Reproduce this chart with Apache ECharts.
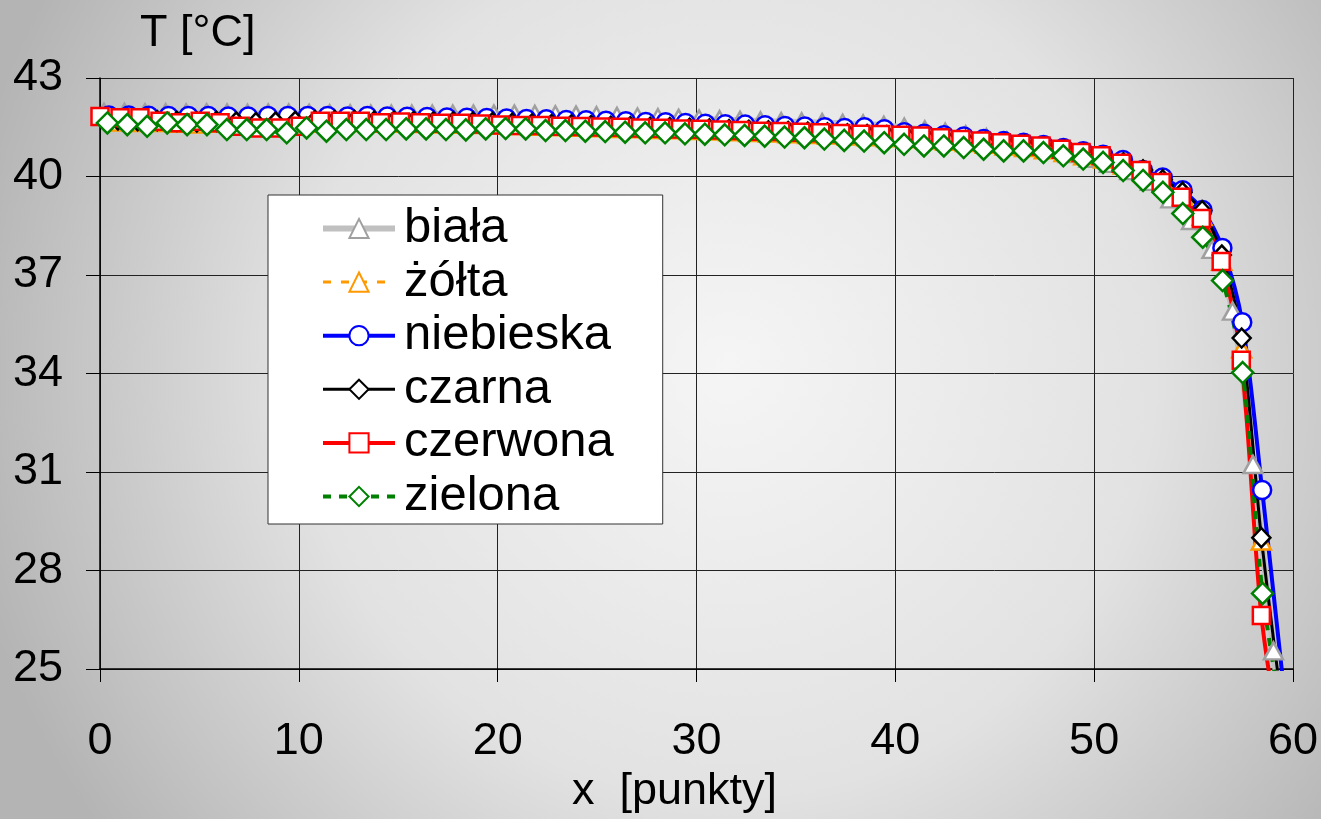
<!DOCTYPE html>
<html>
<head>
<meta charset="utf-8">
<title>T [°C] – x [punkty]</title>
<script src="https://cdn.jsdelivr.net/npm/echarts@6/dist/echarts.min.js"></script>
<style>
  html, body { margin: 0; padding: 0; }
  #chart { width: 1321px; height: 819px; }
</style>
</head>
<body>
<div id="chart"></div>
<script>
// Temperature profiles along a line of points, one series per colour.

const seriesNames = ['biała', 'żółta', 'niebieska', 'czarna', 'czerwona', 'zielona'];

const xTicks = [0, 10, 20, 30, 40, 50, 60];
const yTicks = [25, 28, 31, 34, 37, 40, 43];

// x positions [punkty]
const bialaX = [0.20, 1.23, 2.26, 3.30, 4.33, 5.36, 6.39, 7.42, 8.46, 9.49,
  10.52, 11.55, 12.58, 13.62, 14.65, 15.68, 16.71, 17.74, 18.78, 19.81,
  20.84, 21.87, 22.90, 23.94, 24.97, 26.00, 27.03, 28.06, 29.10, 30.13,
  31.16, 32.19, 33.22, 34.26, 35.29, 36.32, 37.35, 38.38, 39.42, 40.45,
  41.48, 42.51, 43.54, 44.58, 45.61, 46.64, 47.67, 48.70, 49.74, 50.77,
  51.80, 52.83, 53.86, 54.90, 55.93, 56.96, 57.99, 59.02, 60.06];

const czarnaX = [0.90, 1.89, 2.88, 3.87, 4.87, 5.86, 6.85, 7.84, 8.83, 9.82,
  10.82, 11.81, 12.80, 13.79, 14.78, 15.77, 16.76, 17.76, 18.75, 19.74,
  20.73, 21.72, 22.71, 23.70, 24.70, 25.69, 26.68, 27.67, 28.66, 29.65,
  30.65, 31.64, 32.63, 33.62, 34.61, 35.60, 36.59, 37.59, 38.58, 39.57,
  40.56, 41.55, 42.54, 43.53, 44.53, 45.52, 46.51, 47.50, 48.49, 49.48,
  50.48, 51.47, 52.46, 53.45, 54.44, 55.43, 56.42, 57.42, 58.41, 59.40];

const zoltaX = czarnaX;

const niebieskaX = [0.45, 1.45, 2.45, 3.45, 4.45, 5.45, 6.45, 7.45, 8.45, 9.45,
  10.45, 11.45, 12.45, 13.45, 14.45, 15.45, 16.45, 17.45, 18.45, 19.45,
  20.45, 21.45, 22.45, 23.45, 24.45, 25.45, 26.45, 27.45, 28.45, 29.45,
  30.45, 31.45, 32.45, 33.45, 34.45, 35.45, 36.45, 37.45, 38.45, 39.45,
  40.45, 41.45, 42.45, 43.45, 44.45, 45.45, 46.45, 47.45, 48.45, 49.45,
  50.45, 51.45, 52.45, 53.45, 54.45, 55.45, 56.45, 57.45, 58.45, 59.45];

const czerwonaX = [0.00, 1.01, 2.01, 3.02, 4.03, 5.04, 6.04, 7.05, 8.06, 9.06,
  10.07, 11.08, 12.08, 13.09, 14.10, 15.11, 16.11, 17.12, 18.13, 19.13,
  20.14, 21.15, 22.15, 23.16, 24.17, 25.18, 26.18, 27.19, 28.20, 29.20,
  30.21, 31.22, 32.22, 33.23, 34.24, 35.25, 36.25, 37.26, 38.27, 39.27,
  40.28, 41.29, 42.29, 43.30, 44.31, 45.32, 46.32, 47.33, 48.34, 49.34,
  50.35, 51.36, 52.36, 53.37, 54.38, 55.39, 56.39, 57.40, 58.41, 59.41];

const zielonaX = [0.37, 1.37, 2.37, 3.38, 4.38, 5.38, 6.38, 7.38, 8.38, 9.39,
  10.39, 11.39, 12.39, 13.39, 14.39, 15.40, 16.40, 17.40, 18.40, 19.40,
  20.40, 21.41, 22.41, 23.41, 24.41, 25.41, 26.41, 27.42, 28.42, 29.42,
  30.42, 31.42, 32.42, 33.43, 34.43, 35.43, 36.43, 37.43, 38.43, 39.44,
  40.44, 41.44, 42.44, 43.44, 44.44, 45.45, 46.45, 47.45, 48.45, 49.45,
  50.45, 51.46, 52.46, 53.46, 54.46, 55.46, 56.46, 57.47, 58.47, 59.47];

// temperatures T [°C]
const bialaT = [41.95, 41.95, 41.94, 41.94, 41.93, 41.94, 41.93, 41.92, 41.93, 41.93,
  41.92, 41.91, 41.91, 41.90, 41.90, 41.90, 41.90, 41.90, 41.90, 41.90,
  41.90, 41.89, 41.88, 41.87, 41.85, 41.83, 41.81, 41.79, 41.77, 41.75,
  41.73, 41.71, 41.69, 41.67, 41.66, 41.64, 41.62, 41.60, 41.56, 41.50,
  41.42, 41.35, 41.27, 41.18, 41.08, 40.97, 40.85, 40.70, 40.55, 40.40,
  40.18, 39.85, 39.32, 38.66, 37.78, 35.90, 31.23, 25.55, 19.50];

const zoltaT = [41.66, 41.64, 41.64, 41.62, 41.60, 41.62, 41.60, 41.56, 41.56, 41.58,
  41.62, 41.64, 41.64, 41.62, 41.62, 41.61, 41.60, 41.59, 41.58, 41.57,
  41.55, 41.53, 41.51, 41.50, 41.48, 41.46, 41.45, 41.43, 41.42, 41.40,
  41.38, 41.36, 41.34, 41.32, 41.30, 41.28, 41.26, 41.23, 41.21, 41.18,
  41.15, 41.11, 41.07, 41.03, 40.98, 40.93, 40.88, 40.81, 40.73, 40.63,
  40.53, 40.35, 40.12, 39.80, 39.40, 38.78, 37.42, 34.75, 28.90, 23.80];

const niebieskaT = [41.86, 41.86, 41.85, 41.84, 41.84, 41.84, 41.83, 41.83, 41.84, 41.84,
  41.84, 41.84, 41.83, 41.84, 41.83, 41.82, 41.81, 41.80, 41.79, 41.78,
  41.77, 41.75, 41.74, 41.72, 41.71, 41.70, 41.68, 41.66, 41.65, 41.63,
  41.61, 41.59, 41.58, 41.56, 41.54, 41.52, 41.50, 41.48, 41.50, 41.44,
  41.35, 41.30, 41.26, 41.22, 41.14, 41.08, 41.03, 40.96, 40.87, 40.77,
  40.66, 40.50, 40.20, 39.97, 39.58, 38.98, 37.82, 35.56, 30.45, 24.90];

const czarnaT = [41.72, 41.70, 41.70, 41.68, 41.66, 41.68, 41.66, 41.64, 41.66, 41.68,
  41.70, 41.70, 41.70, 41.68, 41.68, 41.67, 41.66, 41.66, 41.65, 41.64,
  41.62, 41.60, 41.58, 41.57, 41.55, 41.53, 41.52, 41.50, 41.49, 41.47,
  41.45, 41.43, 41.41, 41.39, 41.37, 41.35, 41.33, 41.30, 41.28, 41.25,
  41.22, 41.18, 41.14, 41.10, 41.05, 41.00, 40.95, 40.88, 40.80, 40.70,
  40.60, 40.42, 40.20, 39.90, 39.52, 38.96, 37.61, 35.08, 29.00, 24.10];

const czerwonaT = [41.83, 41.79, 41.79, 41.68, 41.64, 41.68, 41.64, 41.53, 41.48, 41.48,
  41.53, 41.68, 41.68, 41.68, 41.64, 41.66, 41.64, 41.62, 41.62, 41.60,
  41.57, 41.55, 41.55, 41.53, 41.52, 41.51, 41.50, 41.48, 41.47, 41.45,
  41.44, 41.42, 41.40, 41.38, 41.37, 41.35, 41.33, 41.31, 41.29, 41.28,
  41.26, 41.23, 41.18, 41.13, 41.08, 41.03, 40.98, 40.93, 40.83, 40.73,
  40.63, 40.40, 40.18, 39.82, 39.37, 38.72, 37.41, 34.40, 26.63, 22.60];

const zielonaT = [41.63, 41.58, 41.53, 41.63, 41.58, 41.58, 41.43, 41.43, 41.43, 41.33,
  41.48, 41.38, 41.43, 41.43, 41.43, 41.45, 41.45, 41.43, 41.42, 41.45,
  41.46, 41.45, 41.40, 41.40, 41.38, 41.37, 41.35, 41.33, 41.33, 41.30,
  41.29, 41.27, 41.25, 41.23, 41.20, 41.18, 41.14, 41.10, 41.08, 41.03,
  40.98, 40.93, 40.93, 40.88, 40.83, 40.78, 40.78, 40.73, 40.63, 40.53,
  40.43, 40.18, 39.88, 39.52, 38.87, 38.15, 36.83, 34.03, 27.30, 23.50];

const FONT = '"Liberation Sans", Arial, sans-serif';

function pairs(xs, ys) {
  return ys.map((y, i) => [xs[i], y]);
}

function lineSeries(name, xs, ys, symbol, symbolSize, color, lineColor, lineWidth, dash) {
  return {
    name: name,
    type: 'line',
    data: pairs(xs, ys),
    smooth: 0.3,
    clip: true,
    showSymbol: true,
    showAllSymbol: true,
    symbol: symbol,
    symbolSize: symbolSize,
    itemStyle: { color: '#ffffff', borderColor: color, borderWidth: 2.5 },
    lineStyle: { color: lineColor, width: lineWidth, type: dash || 'solid' },
    emphasis: { disabled: true },
    animation: false
  };
}

const chart = echarts.init(document.getElementById('chart'), null, { renderer: 'canvas' });

chart.setOption({
  animation: false,
  backgroundColor: {
    type: 'radial', x: 0.55, y: 0.45, r: 0.95,
    colorStops: [
      { offset: 0, color: '#f5f5f5' },
      { offset: 0.55, color: '#e2e2e2' },
      { offset: 1, color: '#b4b4b4' }
    ]
  },
  grid: { left: 100, right: 26, top: 78, bottom: 144, containLabel: false },
  legend: {
    data: seriesNames,
    orient: 'vertical',
    left: 268,
    top: 195,
    itemWidth: 72,
    itemHeight: 24,
    itemGap: 4.6,
    padding: [9, 49, 3, 52],
    backgroundColor: '#ffffff',
    borderColor: '#333333',
    borderWidth: 1,
    selectedMode: false,
    lineStyle: { width: 'inherit', type: 'inherit' },
    itemStyle: { borderWidth: 2 },
    textStyle: { fontSize: 49, color: '#000000', fontFamily: FONT, padding: [0, 0, 0, 4] }
  },
  xAxis: {
    type: 'value',
    min: xTicks[0],
    max: xTicks[xTicks.length - 1],
    interval: xTicks[1] - xTicks[0],
    name: 'x  [punkty]',
    nameLocation: 'middle',
    nameGap: 100,
    nameTextStyle: { fontSize: 45, color: '#000000', fontFamily: FONT, padding: [0, 44, 0, 0] },
    axisLine: { show: true, onZero: false, lineStyle: { color: '#000000', width: 1.5 } },
    axisTick: { show: true, length: 13, lineStyle: { color: '#000000', width: 1 } },
    axisLabel: { fontSize: 45, color: '#000000', fontFamily: FONT, margin: 50 },
    splitLine: { show: true, lineStyle: { color: '#222222', width: 1 } }
  },
  yAxis: {
    type: 'value',
    min: yTicks[0],
    max: yTicks[yTicks.length - 1],
    interval: yTicks[1] - yTicks[0],
    name: 'T [°C]',
    nameLocation: 'end',
    nameGap: 22,
    nameTextStyle: { fontSize: 45, color: '#000000', fontFamily: FONT, align: 'left', padding: [0, 0, 0, 40] },
    axisLine: { show: true, onZero: false, lineStyle: { color: '#000000', width: 1.5 } },
    axisTick: { show: true, length: 14, lineStyle: { color: '#000000', width: 1 } },
    axisLabel: { fontSize: 45, color: '#000000', fontFamily: FONT, margin: 37 },
    splitLine: { show: true, lineStyle: { color: '#222222', width: 1 } }
  },
  series: [
    lineSeries('biała', bialaX, bialaT, 'triangle', [19, 17], '#a0a0a0', '#c0c0c0', 6),
    lineSeries('żółta', zoltaX, zoltaT, 'triangle', [19, 17], '#ff9900', '#ff9900', 3, [8, 10]),
    lineSeries('niebieska', niebieskaX, niebieskaT, 'circle', 18, '#0000ff', '#0000ff', 4),
    lineSeries('czarna', czarnaX, czarnaT, 'diamond', [18, 19], '#000000', '#000000', 3),
    lineSeries('czerwona', czerwonaX, czerwonaT, 'rect', 17, '#ff0000', '#ff0000', 4),
    lineSeries('zielona', zielonaX, zielonaT, 'diamond', [21, 21], '#008000', '#008000', 4, [8, 8])
  ]
});
</script>
</body>
</html>
